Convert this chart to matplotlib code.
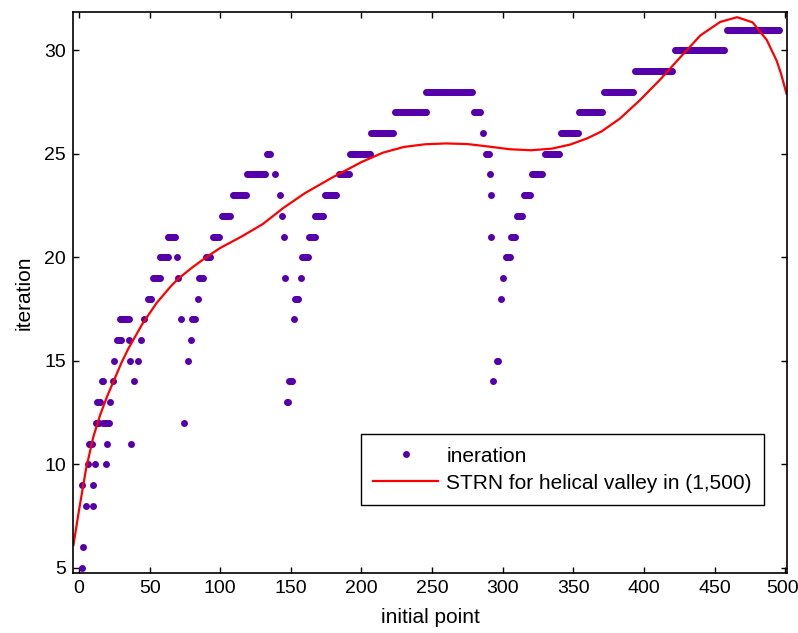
import matplotlib
matplotlib.use('Agg')
import matplotlib.pyplot as plt
import matplotlib.transforms as mtransforms
import numpy as np

plt.rcParams['font.family'] = ['Liberation Sans', 'DejaVu Sans']

# runs of equal iteration count: first initial point, last initial point, iteration
run_start = [2, 3, 5, 10, 2, 10, 6, 11, 19, 7, 20, 37, 12, 17, 74, 13, 22,
             16, 24, 39, 25, 36, 42, 77, 27, 35, 44, 79, 29, 46, 72, 80,
             49, 84, 52, 70, 85, 57, 69, 90, 63, 95, 101, 109, 119, 133,
             139, 142, 144, 145, 146, 149, 147,
             152, 153, 157, 158, 163, 167, 174, 184, 192, 207, 224, 246,
             280, 286, 288, 291, 292, 292, 296, 293,
             299, 300, 302, 306, 310, 315, 321, 330, 341, 354, 372, 394, 422, 459]
run_end = [2, 3, 5, 10, 2, 10, 6, 11, 19, 9, 20, 37, 14, 21, 74, 15, 22,
           17, 24, 39, 25, 36, 42, 77, 30, 35, 44, 79, 35, 46, 72, 82,
           51, 84, 57, 70, 88, 63, 69, 93, 68, 99, 107, 118, 132, 135,
           139, 142, 144, 145, 146, 151, 148,
           152, 155, 157, 162, 167, 173, 182, 191, 206, 222, 246, 278,
           284, 286, 290, 291, 292, 292, 297, 293,
           299, 300, 305, 309, 314, 319, 328, 340, 353, 370, 392, 420, 457, 496]
run_iter = [5, 6, 8, 8, 9, 9, 10, 10, 10, 11, 11, 11, 12, 12, 12, 13, 13,
            14, 14, 14, 15, 15, 15, 15, 16, 16, 16, 16, 17, 17, 17, 17,
            18, 18, 19, 19, 19, 20, 20, 20, 21, 21, 22, 23, 24, 25,
            24, 23, 22, 21, 19, 14, 13,
            17, 18, 19, 20, 21, 22, 23, 24, 25, 26, 27, 28,
            27, 26, 25, 24, 23, 21, 15, 14,
            18, 19, 20, 21, 22, 23, 24, 25, 26, 27, 28, 29, 30, 31]

# STRN curve
curve_x = [-4, 0, 5, 10, 15, 20, 25, 30, 35, 40, 45, 50, 55, 60, 65, 70, 80,
           90, 100, 115, 130, 145, 160, 180, 200, 215, 230, 245, 260, 275,
           290, 305, 320, 335, 348, 360, 370, 383, 397, 411, 426, 440, 454,
           466, 477, 487, 494, 497, 501]
curve_y = [6.1, 7.8, 9.8, 11.3, 12.4, 13.3, 14.1, 14.9, 15.6, 16.2, 16.8,
           17.3, 17.8, 18.2, 18.6, 18.95, 19.5, 20.0, 20.45, 21.0, 21.6, 22.4,
           23.1, 23.88, 24.6, 25.05, 25.33, 25.46, 25.5, 25.47, 25.35, 25.22,
           25.17, 25.25, 25.45, 25.75, 26.08, 26.7, 27.58, 28.55, 29.68,
           30.72, 31.37, 31.6, 31.35, 30.5, 29.5, 28.9, 27.9]

pts_x = []
pts_y = []
for s, e, v in zip(run_start, run_end, run_iter):
    for xv in range(s, e + 1):
        pts_x.append(xv)
        pts_y.append(v)

fig = plt.figure(figsize=(7.98, 6.33), dpi=100)
ax = fig.add_axes([0.0915, 0.095, 0.895, 0.886])

ax.plot(pts_x, pts_y, 'o', color='#5500aa', markersize=5, markeredgewidth=0,
        label='ineration')
ax.plot(curve_x, curve_y, '-', color='red', linewidth=1.6,
        label='STRN for helical valley in (1,500)')

ax.set_xlim(-4.3, 501.5)
ax.set_ylim(4.75, 31.85)
ax.set_xticks(np.arange(0, 501, 50))
ax.set_yticks(np.arange(5, 31, 5))
ax.tick_params(direction='in', top=True, right=True, length=4, width=1,
               labelsize=14, pad=5)
for sp in ax.spines.values():
    sp.set_linewidth(1.2)

# keep the last x tick label inside the figure
last = ax.get_xticklabels()[-1]
last.set_transform(last.get_transform() +
                   mtransforms.ScaledTranslation(-3 / 100, 0, fig.dpi_scale_trans))

ax.set_xlabel('initial point', fontsize=15, labelpad=8)
ax.set_ylabel('iteration', fontsize=15, labelpad=8)

leg = ax.legend(loc='lower right', bbox_to_anchor=(0.968, 0.121),
                fontsize=15, fancybox=False, edgecolor='black',
                framealpha=1, handlelength=3.1, handletextpad=0.4,
                borderpad=0.6, labelspacing=0.38, borderaxespad=0)
leg.get_frame().set_linewidth(1.0)

fig.savefig('out.png', dpi=100)
